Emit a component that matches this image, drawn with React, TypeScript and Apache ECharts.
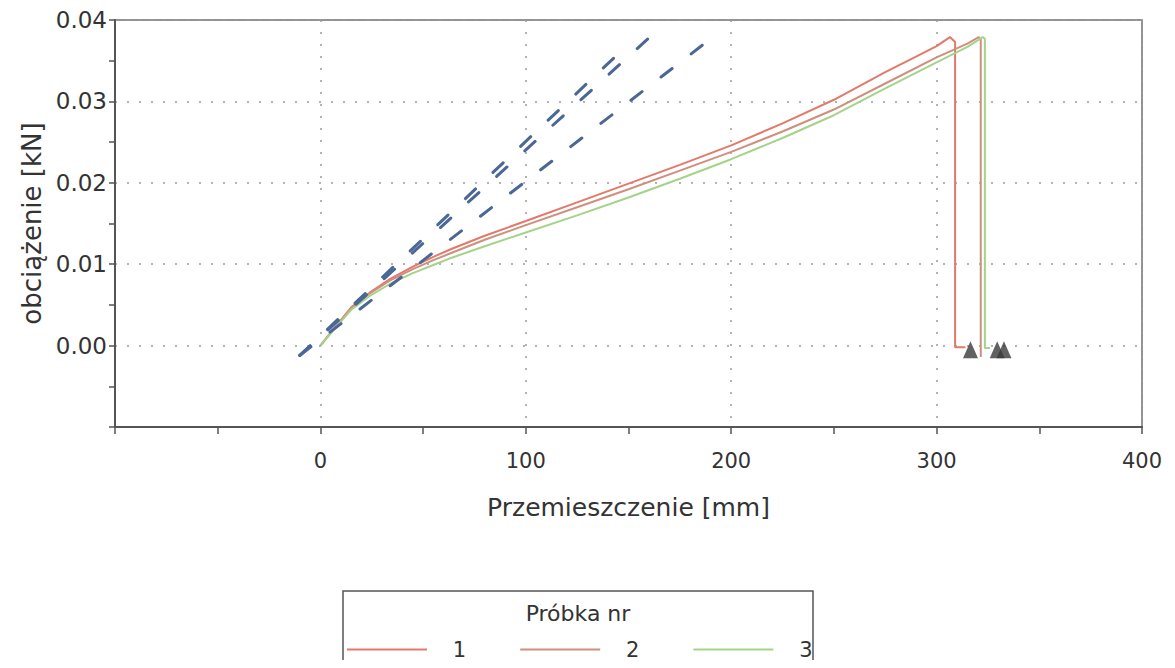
import React, { useEffect, useRef } from "react";
import * as echarts from "echarts";

// Sample curves: displacement [mm] and load [kN]
const sample1X = [0, 8, 15, 24, 34, 45, 55, 64, 80, 100, 125, 150, 175, 200, 225, 250, 275, 290, 300, 306.5, 309, 309, 314];
const sample1Y = [0, 0.0025, 0.0047, 0.0065, 0.0082, 0.0097, 0.0109, 0.0119, 0.0135, 0.0153, 0.0176, 0.0199, 0.0222, 0.0246, 0.0273, 0.0302, 0.0336, 0.0355, 0.0368, 0.0379, 0.0373, -0.0002, -0.0002];

const sample2X = [0, 8, 15, 24, 34, 45, 55, 64, 80, 100, 125, 150, 175, 200, 225, 250, 275, 300, 315, 320.5, 321.5, 321.5];
const sample2Y = [0, 0.0025, 0.0046, 0.0064, 0.008, 0.0094, 0.0105, 0.0114, 0.013, 0.0148, 0.017, 0.0192, 0.0215, 0.0238, 0.0263, 0.029, 0.0322, 0.0354, 0.0371, 0.0379, 0.0376, -0.0014];

const sample3X = [0, 8, 15, 24, 34, 45, 55, 64, 80, 100, 125, 150, 175, 200, 225, 250, 275, 300, 315, 322.5, 323.5, 323.5, 326];
const sample3Y = [0, 0.0024, 0.0044, 0.0061, 0.0076, 0.0089, 0.0099, 0.0108, 0.0122, 0.0139, 0.016, 0.0182, 0.0205, 0.0229, 0.0255, 0.0283, 0.0316, 0.0348, 0.0367, 0.0379, 0.0377, -0.0003, -0.0003];

// Dashed tangent lines (start and end points)
const tangentX = [
  [-10, 149],
  [-10, 159.5],
  [-10, 188.5],
];
const tangentY = [
  [-0.0012, 0.0368],
  [-0.0012, 0.0377],
  [-0.0012, 0.0374],
];

// Break markers
const breakX = [316.5, 329.5, 332.8];
const breakY = [-0.0005, -0.0005, -0.0005];

const seriesNames = ["1", "2", "3"];
const seriesColors = ["#e27a6c", "#cf8f7e", "#a4d38a"];
const legendTitle = "Próbka nr";
const xAxisName = "Przemieszczenie [mm]";
const yAxisName = "obciążenie [kN]";

const zip = (xs: number[], ys: number[]) => xs.map((x, i) => [x, ys[i]]);

export default function App() {
  const ref = useRef<HTMLDivElement>(null);

  useEffect(() => {
    if (!ref.current) return;
    const chart = echarts.init(ref.current, null, { renderer: "svg" });
    const font = "DejaVu Sans";
    const samples = [zip(sample1X, sample1Y), zip(sample2X, sample2Y), zip(sample3X, sample3Y)];

    const option: any = {
      animation: false,
      backgroundColor: "#ffffff",
      textStyle: { fontFamily: font },
      grid: {
        left: 115,
        right: 33,
        top: 20,
        bottom: 241,
        show: true,
        borderColor: "#707070",
        borderWidth: 1.5,
      },
      xAxis: {
        type: "value",
        min: -100,
        max: 400,
        interval: 100,
        name: xAxisName,
        nameLocation: "middle",
        nameGap: 68,
        nameTextStyle: { fontSize: 25, color: "#333", fontFamily: font },
        axisLine: { onZero: false, lineStyle: { color: "#555", width: 2 } },
        axisTick: { show: true, length: 7, lineStyle: { color: "#555", width: 1.5 } },
        minorTick: { show: true, splitNumber: 2, length: 7, lineStyle: { color: "#555", width: 1.5 } },
        axisLabel: {
          margin: 23,
          fontSize: 21,
          color: "#333",
          fontFamily: font,
          formatter: (v: number) => (v === -100 ? "" : String(v)),
        },
        splitLine: { show: true, lineStyle: { color: "#9a9a9a", type: [2, 10], width: 1.5 } },
      },
      yAxis: {
        type: "value",
        min: -0.01,
        max: 0.04,
        interval: 0.01,
        name: yAxisName,
        nameLocation: "middle",
        nameGap: 70,
        nameTextStyle: { fontSize: 26, color: "#333", fontFamily: font },
        axisLine: { onZero: false, lineStyle: { color: "#555", width: 2 } },
        axisTick: { show: true, length: 6, lineStyle: { color: "#555", width: 1.5 } },
        minorTick: { show: true, splitNumber: 2, length: 6, lineStyle: { color: "#555", width: 1.5 } },
        axisLabel: {
          margin: 8,
          fontSize: 23,
          color: "#333",
          fontFamily: font,
          formatter: (v: number) => (v < -0.005 ? "" : v.toFixed(2)),
        },
        splitLine: { show: true, lineStyle: { color: "#9a9a9a", type: [2, 10], width: 1.5 } },
      },
      legend: {
        data: seriesNames,
        left: 347,
        top: 639,
        padding: 0,
        icon: "rect",
        itemWidth: 80,
        itemHeight: 2,
        itemGap: 54,
        formatter: "{a|{name}}",
        textStyle: {
          fontSize: 21,
          color: "#333",
          fontFamily: font,
          rich: {
            a: { width: 55, align: "center", fontSize: 21, color: "#333", fontFamily: font },
          },
        },
      },
      graphic: [
        {
          type: "rect",
          shape: { x: 343, y: 591, width: 470, height: 110 },
          style: { fill: "none", stroke: "#555", lineWidth: 1.5 },
          silent: true,
        },
        {
          type: "text",
          x: 578,
          y: 613,
          style: {
            text: legendTitle,
            fontSize: 22,
            fontFamily: font,
            fill: "#333",
            align: "center",
            verticalAlign: "middle",
          },
          silent: true,
        },
      ],
      series: [
        ...samples.map((d, i) => ({
          name: seriesNames[i],
          type: "line",
          data: d,
          symbol: "none",
          color: seriesColors[i],
          lineStyle: { color: seriesColors[i], width: 2 },
          z: 2,
        })),
        ...tangentX.map((xs, i) => ({
          name: "t" + i,
          type: "line",
          data: zip(xs, tangentY[i]),
          symbol: "none",
          color: "#4b6796",
          lineStyle: { color: "#4b6796", width: 3, type: [14, 24], cap: "round" },
          z: 3,
        })),
        {
          name: "breaks",
          type: "scatter",
          data: zip(breakX, breakY),
          symbol: "triangle",
          symbolSize: [15, 17],
          itemStyle: { color: "#3a3a3a" },
          z: 4,
        },
      ],
    };

    chart.setOption(option);
    return () => chart.dispose();
  }, []);

  return <div ref={ref} style={{ width: 1175, height: 668, margin: -8 }} />;
}
